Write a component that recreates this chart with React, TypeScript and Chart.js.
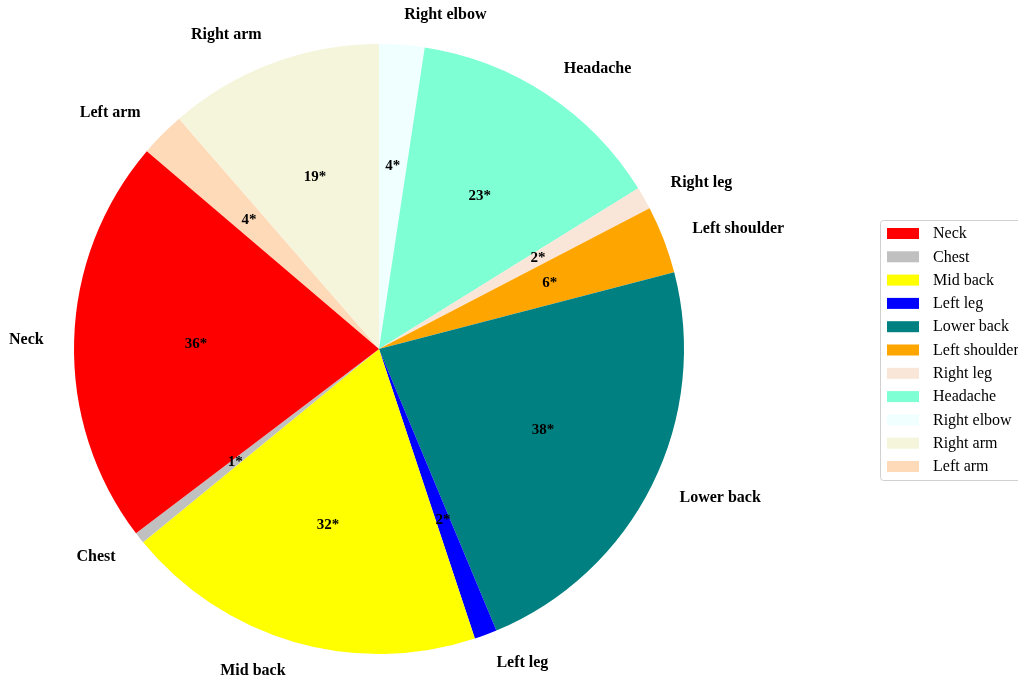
import React, { useEffect, useRef } from "react";
import { Chart, registerables } from "chart.js";

Chart.register(...registerables);

const categories = ["Neck", "Chest", "Mid back", "Left leg", "Lower back", "Left shoulder", "Right leg", "Headache", "Right elbow", "Right arm", "Left arm"];
const counts = [36, 1, 32, 2, 38, 6, 2, 23, 4, 19, 4];
const valueLabels = ["36*", "1*", "32*", "2*", "38*", "6*", "2*", "23*", "4*", "19*", "4*"];
const colors = ["#ff0000", "#c0c0c0", "#ffff00", "#0000ff", "#008080", "#ffa500", "#fae6d8", "#7fffd4", "#f0ffff", "#f5f5dc", "#ffdab9"];

const SERIF = '"Liberation Serif", "Times New Roman", serif';

export default function App() {
  const ref = useRef<HTMLCanvasElement | null>(null);

  useEffect(() => {
    const canvas = ref.current;
    if (!canvas) return;
    // matplotlib draws counter-clockwise; Chart.js draws clockwise, so reverse order
    const labels = [...categories].reverse();
    const data = [...counts].reverse();
    const bg = [...colors].reverse();
    const vals = [...valueLabels].reverse();
    const total = counts.reduce((a, b) => a + b, 0);
    const rotation = -((counts[9] + counts[10]) / total) * 360;

    const labelPlugin = {
      id: "pieLabels",
      afterDatasetsDraw(chart: any) {
        const ctx = chart.ctx;
        const meta = chart.getDatasetMeta(0);
        ctx.save();
        meta.data.forEach((arc: any, i: number) => {
          const { x, y, startAngle, endAngle, outerRadius } = arc.getProps(["x", "y", "startAngle", "endAngle", "outerRadius"], true);
          const mid = (startAngle + endAngle) / 2;
          const c = Math.cos(mid);
          const s = Math.sin(mid);
          ctx.fillStyle = "#000";
          ctx.textBaseline = "middle";
          ctx.font = `bold 16px ${SERIF}`;
          ctx.textAlign = c > 0 ? "left" : "right";
          ctx.fillText(labels[i], x + c * outerRadius * 1.1, y + s * outerRadius * 1.1);
          ctx.font = `bold 15px ${SERIF}`;
          ctx.textAlign = "center";
          ctx.fillText(vals[i], x + c * outerRadius * 0.6, y + s * outerRadius * 0.6);
        });
        ctx.restore();
      },
    };

    const legendPlugin = {
      id: "customLegend",
      afterDraw(chart: any) {
        const ctx = chart.ctx;
        ctx.save();
        const bx = 880.5, by = 220.5, bw = 150, bh = 260;
        ctx.strokeStyle = "#d0d0d0";
        ctx.lineWidth = 1;
        ctx.fillStyle = "rgba(255,255,255,0.8)";
        ctx.beginPath();
        ctx.roundRect(bx, by, bw, bh, 3);
        ctx.fill();
        ctx.stroke();
        ctx.font = `16px ${SERIF}`;
        ctx.textBaseline = "middle";
        ctx.textAlign = "left";
        categories.forEach((name, i) => {
          const cy = 233 + i * 23.3;
          ctx.fillStyle = colors[i];
          ctx.fillRect(887, cy - 5, 32, 11);
          ctx.fillStyle = "#000";
          ctx.fillText(name, 933, cy + 1);
        });
        ctx.restore();
      },
    };

    const chart = new Chart(canvas, {
      type: "pie",
      data: {
        labels,
        datasets: [{ data, backgroundColor: bg, borderWidth: 0 }],
      },
      options: {
        responsive: false,
        animation: false,
        rotation,
        layout: { padding: { left: 74, right: 334, top: 44, bottom: 25 } },
        plugins: { legend: { display: false }, tooltip: { enabled: false } },
      },
      plugins: [labelPlugin, legendPlugin],
    });
    return () => chart.destroy();
  }, []);

  return (
    <div style={{ position: "fixed", left: 0, top: 0, width: 1018, height: 679, background: "#fff" }}>
      <canvas ref={ref} width={1018} height={679} style={{ width: 1018, height: 679, display: "block" }} />
    </div>
  );
}
